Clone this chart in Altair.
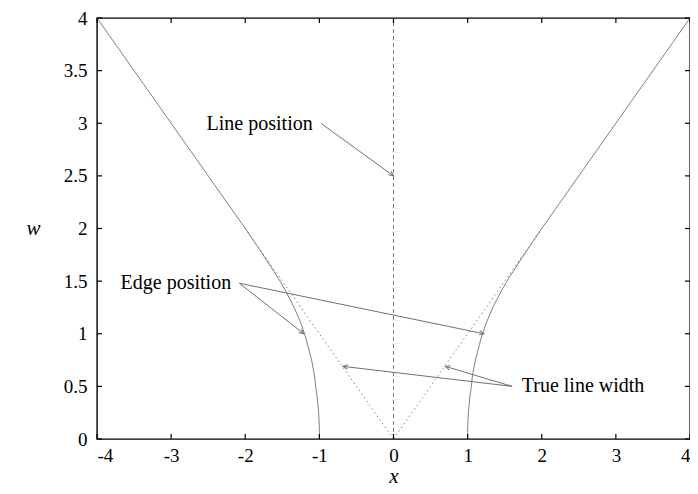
import math
import altair as alt
import pandas as pd

# ---- data ----
edge_w = [0, 0.1, 0.25, 0.4, 0.5, 0.6, 0.75, 0.9, 1.0, 1.1, 1.25, 1.4, 1.5, 1.75, 2.0, 4.0]
edge_x = [1.0, 1.0, 1.01, 1.03, 1.05, 1.065, 1.105, 1.16, 1.20, 1.25, 1.34, 1.45, 1.53, 1.76, 2.0, 4.0]

true_w = [0, 2.0]
true_x = [0, 2.0]

line_pos_w = [0, 4]

x_ticks = [-4, -3, -2, -1, 0, 1, 2, 3, 4]
y_ticks = [0, 0.5, 1, 1.5, 2, 2.5, 3, 3.5, 4]

labels = ["Line position", "Edge position", "True line width"]
label_x = [-1.09, -2.19, 1.73]
label_w = [2.99, 1.48, 0.50]
label_align = ["right", "right", "left"]

arrow_x1 = [-0.98, -2.08, -2.08, 1.60, 1.60]
arrow_w1 = [3.00, 1.48, 1.48, 0.50, 0.50]
arrow_x2 = [0.0, -1.21, 1.22, 0.70, -0.68]
arrow_w2 = [2.50, 1.00, 1.00, 0.69, 0.69]

W, H = 593, 421
SX, SY = W / 8.0, H / 4.0
FONT = "Liberation Serif"
FS = 20
TFS = 19

xs = alt.Scale(domain=[-4, 4], nice=False, zero=False)
ys = alt.Scale(domain=[0, 4], nice=False, zero=False)

rows = []
for side, sgn in (("L", -1), ("R", 1)):
    for i, (w, x) in enumerate(zip(edge_w, edge_x)):
        rows.append({"side": side, "i": i, "x": sgn * x, "w": w})
edge_df = pd.DataFrame(rows)

trows = []
for side, sgn in (("L", -1), ("R", 1)):
    for i, (w, x) in enumerate(zip(true_w, true_x)):
        trows.append({"side": side, "i": i, "x": sgn * x, "w": w})
true_df = pd.DataFrame(trows)

lp_df = pd.DataFrame({"x": [0, 0], "w": line_pos_w, "i": [0, 1]})

arr_df = pd.DataFrame({"x1": arrow_x1, "w1": arrow_w1, "x2": arrow_x2, "w2": arrow_w2})
arr_df["angle"] = [
    math.degrees(math.atan2(-(b2 - b1) * SY, (a2 - a1) * SX)) % 360
    for a1, b1, a2, b2 in zip(arrow_x1, arrow_w1, arrow_x2, arrow_w2)
]

lab_df = pd.DataFrame({"t": labels, "x": label_x, "w": label_w, "a": label_align})

base_x = alt.X("x:Q", scale=xs, axis=alt.Axis(
    values=x_ticks, ticks=False, domain=False, grid=False, title="x",
    labelFont=FONT, labelFontSize=TFS, labelColor="black", labelPadding=7,
    labelExpr="datum.value + ''",
    titleFont=FONT, titleFontSize=21, titleFontStyle="italic", titleFontWeight="normal",
    titleColor="black", titleY=37, titleBaseline="middle"))
base_y = alt.Y("w:Q", scale=ys, axis=alt.Axis(
    values=y_ticks, ticks=False, domain=False, grid=False, title="w",
    labelFont=FONT, labelFontSize=TFS, labelColor="black", labelPadding=10,
    labelExpr="datum.value + ''",
    titleFont=FONT, titleFontSize=21, titleFontStyle="italic", titleFontWeight="normal",
    titleColor="black", titleAngle=0, titleX=-64, titleY=210,
    titleAlign="center", titleBaseline="middle"))

LC = "#808080"
edges = alt.Chart(edge_df).mark_line(color=LC, strokeWidth=1).encode(
    x=base_x, y=base_y, detail="side:N", order="i:Q")

trues = alt.Chart(true_df).mark_line(color=LC, strokeWidth=1, strokeDash=[1.5, 3]).encode(
    x=alt.X("x:Q", scale=xs), y=alt.Y("w:Q", scale=ys), detail="side:N", order="i:Q")

lpos = alt.Chart(lp_df).mark_line(color=LC, strokeWidth=1, strokeDash=[4, 3]).encode(
    x=alt.X("x:Q", scale=xs), y=alt.Y("w:Q", scale=ys), order="i:Q")

arrows = alt.Chart(arr_df).mark_rule(color="#707070", strokeWidth=1).encode(
    x=alt.X("x1:Q", scale=xs), y=alt.Y("w1:Q", scale=ys), x2="x2:Q", y2="w2:Q")

heads = alt.Chart(arr_df).mark_point(
    shape="M -1 -0.45 L 0 0 L -1 0.45", filled=False, color="#707070",
    strokeWidth=1, size=90, opacity=1).encode(
    x=alt.X("x2:Q", scale=xs), y=alt.Y("w2:Q", scale=ys),
    angle=alt.Angle("angle:Q", scale=None))

texts_r = alt.Chart(lab_df).transform_filter(alt.datum.a == "right").mark_text(
    font=FONT, fontSize=FS, color="black", baseline="middle", align="right").encode(
    x=alt.X("x:Q", scale=xs), y=alt.Y("w:Q", scale=ys), text="t:N")
texts_l = alt.Chart(lab_df).transform_filter(alt.datum.a == "left").mark_text(
    font=FONT, fontSize=FS, color="black", baseline="middle", align="left").encode(
    x=alt.X("x:Q", scale=xs), y=alt.Y("w:Q", scale=ys), text="t:N")

tick_df_x = pd.DataFrame({"x": x_ticks})
tick_df_y = pd.DataFrame({"w": y_ticks})
tk = dict(color="black", strokeWidth=1.2)
xt_bot = alt.Chart(tick_df_x).mark_rule(**tk).encode(
    x=alt.X("x:Q", scale=xs), y=alt.value(H), y2=alt.value(H - 5))
xt_top = alt.Chart(tick_df_x).mark_rule(**tk).encode(
    x=alt.X("x:Q", scale=xs), y=alt.value(0), y2=alt.value(5))
yt_l = alt.Chart(tick_df_y).mark_rule(**tk).encode(
    y=alt.Y("w:Q", scale=ys), x=alt.value(0), x2=alt.value(5))
yt_r = alt.Chart(tick_df_y).mark_rule(**tk).encode(
    y=alt.Y("w:Q", scale=ys), x=alt.value(W), x2=alt.value(W - 5))

chart = alt.layer(edges, trues, lpos, arrows, heads, texts_r, texts_l,
                  xt_bot, xt_top, yt_l, yt_r).properties(
    width=W, height=H,
    autosize=alt.AutoSizeParams(type="none"),
    padding={"left": 89, "top": 10, "right": 0, "bottom": 47},
).configure_view(stroke="black", strokeWidth=1.4)

chart.save("out.html", embed_options={"renderer": "svg", "actions": False})
